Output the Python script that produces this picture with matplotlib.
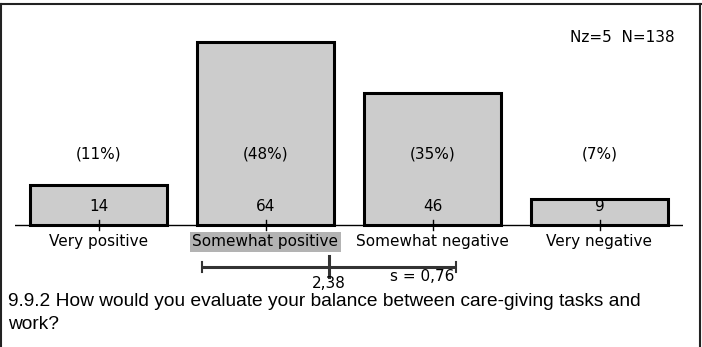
import matplotlib.pyplot as plt
from matplotlib.lines import Line2D

# Данные
categories = ['Very positive', 'Somewhat positive', 'Somewhat negative', 'Very negative']
counts = [14, 64, 46, 9]
percents = ['(11%)', '(48%)', '(35%)', '(7%)']
mean_value = 2.38
sd_value = 0.76
n_info = 'Nz=5  N=138'
question = '9.9.2 How would you evaluate your balance between care-giving tasks and\nwork?'

fs = 11

fig = plt.figure(figsize=(7.02, 3.47), dpi=100)
ax = fig.add_axes([15 / 702, 0, 668 / 702, 1])
ax.set_xlim(0.5, 4.5)
ax.set_ylim(-42.7, 78.7)
ax.axis('off')

x = list(range(1, len(categories) + 1))
ax.bar(x, counts, width=0.815, color='#cccccc', edgecolor='black', linewidth=2.2, zorder=2)
ax.axhline(0, color='black', linewidth=1, zorder=3)

for xi, c, p, lab in zip(x, counts, percents, categories):
    ax.plot([xi, xi], [-1.8, 1.8], color='black', linewidth=1, zorder=4)
    ax.text(xi, 6.5, str(c), ha='center', va='center', fontsize=fs, zorder=5)
    ax.text(xi, 24.8, p, ha='center', va='center', fontsize=fs)
    kw = {}
    if lab == 'Somewhat positive':
        kw['bbox'] = dict(facecolor='#b3b3b3', edgecolor='none', pad=2.0)
    ax.text(xi, -5.9, lab, ha='center', va='center', fontsize=fs, **kw)

# Среднее и стандартное отклонение
lo, hi = mean_value - sd_value, mean_value + sd_value
ly = -14.7
ax.plot([lo, hi], [ly, ly], color='#333333', linewidth=2.2, solid_capstyle='butt')
for xe in (lo, hi):
    ax.plot([xe, xe], [ly - 1.8, ly + 1.8], color='#333333', linewidth=1.5)
ax.plot([mean_value, mean_value], [ly + 3.9, ly - 3.6], color='#333333', linewidth=2.2)
ax.text(mean_value, -20.6, '2,38', ha='center', va='center', fontsize=fs)
ax.text(hi - 0.01, -17.9, 's = 0,76', ha='right', va='center', fontsize=fs)

fig.text(675 / 702, 1 - 37 / 347, n_info, ha='right', va='center', fontsize=fs)
fig.text(8 / 702, 1 - 313 / 347, question, ha='left', va='center',
         fontsize=13.8, family='Liberation Sans', linespacing=1.42)

# Рамка
fig.add_artist(Line2D([0, 1], [1 - 4 / 347, 1 - 4 / 347], color='#222222', linewidth=1.5))
fig.add_artist(Line2D([1 / 702, 1 / 702], [0, 1 - 4 / 347], color='#222222', linewidth=1.5))
fig.add_artist(Line2D([700 / 702, 700 / 702], [0, 1 - 4 / 347], color='#222222', linewidth=1.5))

fig.savefig('out.png', dpi=100)
